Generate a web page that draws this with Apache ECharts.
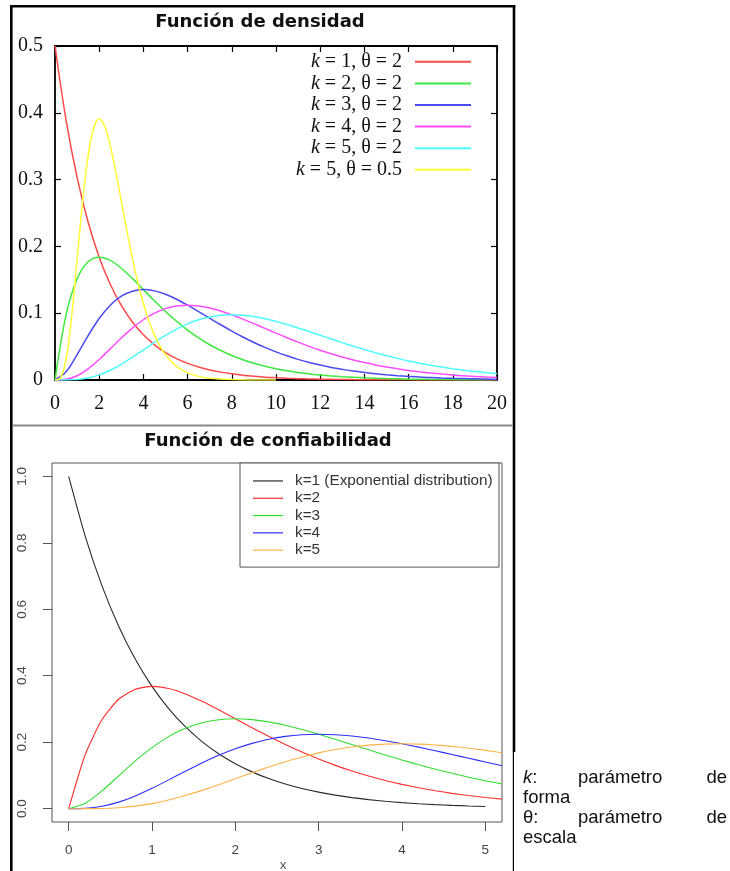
<!DOCTYPE html>
<html><head><meta charset="utf-8">
<script src="https://cdn.jsdelivr.net/npm/echarts@6/dist/echarts.min.js"></script>
<style>html,body{margin:0;padding:0;background:#fff}#c{width:730px;height:871px}</style>
</head><body><div id="c"></div>
<script>
// ---------- Top panel: Función de densidad ----------
const densX = [0,0.5,1,1.5,2,2.5,3,3.5,4,4.5,5,5.5,6,6.5,7,7.5,8,8.5,9,9.5,10,10.5,11,11.5,12,12.5,13,13.5,14,14.5,15,15.5,16,16.5,17,17.5,18,18.5,19,19.5,20];
const densK1 = [0.5,0.3894,0.3033,0.2362,0.1839,0.1433,0.1116,0.0869,0.0677,0.0527,0.0410,0.0320,0.0249,0.0194,0.0151,0.0118,0.0092,0.0071,0.0056,0.0043,0.0034,0.0026,0.0020,0.0016,0.0012,0.0010,0.0008,0.0006,0.0005,0.0004,0.0003,0.0002,0.0002,0.0001,0.0001,0.0001,0.0001,0,0,0,0];
const densK2 = [0,0.0974,0.1516,0.1771,0.1839,0.1791,0.1673,0.1521,0.1353,0.1186,0.1026,0.0879,0.0747,0.0630,0.0528,0.0441,0.0366,0.0303,0.0250,0.0205,0.0168,0.0138,0.0112,0.0092,0.0074,0.0060,0.0049,0.0040,0.0032,0.0026,0.0021,0.0017,0.0013,0.0011,0.0009,0.0007,0.0006,0.0004,0.0004,0.0003,0.0002];
const densK3 = [0,0.0122,0.0379,0.0664,0.0920,0.1119,0.1255,0.1330,0.1353,0.1334,0.1283,0.1209,0.1120,0.1024,0.0925,0.0827,0.0733,0.0644,0.0562,0.0488,0.0421,0.0362,0.0309,0.0263,0.0223,0.0188,0.0159,0.0133,0.0112,0.0093,0.0078,0.0065,0.0054,0.0044,0.0037,0.0030,0.0025,0.0021,0.0017,0.0014,0.0011];
const densK4 = [0,0.0010,0.0063,0.0166,0.0307,0.0466,0.0628,0.0776,0.0902,0.1000,0.1069,0.1108,0.1120,0.1109,0.1079,0.1034,0.0977,0.0912,0.0844,0.0773,0.0702,0.0633,0.0567,0.0504,0.0446,0.0393,0.0344,0.0300,0.0261,0.0226,0.0194,0.0167,0.0143,0.0122,0.0104,0.0088,0.0075,0.0063,0.0054,0.0045,0.0038];
const densK5 = [0,0.0001,0.0008,0.0031,0.0077,0.0146,0.0235,0.0340,0.0451,0.0563,0.0668,0.0762,0.0840,0.0901,0.0944,0.0969,0.0977,0.0970,0.0949,0.0918,0.0877,0.0831,0.0779,0.0725,0.0669,0.0614,0.0559,0.0506,0.0456,0.0409,0.0365,0.0324,0.0286,0.0252,0.0221,0.0193,0.0168,0.0146,0.0127,0.0110,0.0095];
const yelX = [0,0.25,0.5,0.75,1,1.25,1.5,1.75,2,2.25,2.5,2.75,3,3.25,3.5,3.75,4,4.25,4.5,4.75,5,5.5,6,6.5,7,8,9,10];
const densK5T05 = [0,0.0032,0.0307,0.0941,0.1804,0.2672,0.3361,0.3776,0.3907,0.3796,0.3509,0.3117,0.2677,0.2236,0.1825,0.1458,0.1145,0.0885,0.0675,0.0508,0.0378,0.0204,0.0106,0.0054,0.0027,0.0006,0.0001,0];
const topNames = ['k = 1, θ = 2','k = 2, θ = 2','k = 3, θ = 2','k = 4, θ = 2','k = 5, θ = 2','k = 5, θ = 0.5'];
const topColors = ['#ff4a4a','#3ee83e','#4a4af0','#ff4dff','#4dffff','#ffff33'];

// ---------- Bottom panel: Función de confiabilidad ----------
const relX = [0,0.2,0.4,0.6,0.8,1,1.2,1.4,1.6,1.8,2,2.2,2.4,2.6,2.8,3,3.2,3.4,3.6,3.8,4,4.2,4.4,4.6,4.8,5,5.2];
const relK1 = [1,0.8187,0.6703,0.5488,0.4493,0.3679,0.3012,0.2466,0.2019,0.1653,0.1353,0.1108,0.0907,0.0743,0.0608,0.0498,0.0408,0.0334,0.0273,0.0224,0.0183,0.0150,0.0123,0.0101,0.0082,0.0067];
const relK2 = [0,0.1637,0.2681,0.3293,0.3595,0.3679,0.3614,0.3452,0.3230,0.2975,0.2707,0.2438,0.2177,0.1931,0.1703,0.1494,0.1304,0.1135,0.0984,0.0850,0.0733,0.0630,0.0540,0.0462,0.0395,0.0337,0.0287];
const relK3 = [0,0.0164,0.0536,0.0988,0.1438,0.1839,0.2169,0.2417,0.2584,0.2678,0.2707,0.2681,0.2613,0.2510,0.2384,0.2240,0.2087,0.1929,0.1771,0.1615,0.1465,0.1323,0.1188,0.1064,0.0948,0.0842,0.0746];
const relK4 = [0,0.0011,0.0072,0.0198,0.0383,0.0613,0.0867,0.1128,0.1378,0.1607,0.1804,0.1966,0.2090,0.2176,0.2225,0.2240,0.2226,0.2186,0.2125,0.2046,0.1954,0.1852,0.1743,0.1631,0.1517,0.1404,0.1293];
const relK5 = [0,0.0001,0.0007,0.0030,0.0077,0.0153,0.0260,0.0395,0.0551,0.0723,0.0902,0.1082,0.1254,0.1414,0.1557,0.1680,0.1781,0.1858,0.1912,0.1944,0.1954,0.1944,0.1917,0.1875,0.1820,0.1755,0.1681];
const relXTicks = [0,1,2,3,4,5];
const relYTicks = [0,0.2,0.4,0.6,0.8,1.0];
const botNames = ['k=1 (Exponential distribution)','k=2','k=3','k=4','k=5'];
const botColors = ['#2a2a2a','#ff2e2e','#30dd30','#2e2eff','#ffb347'];

const pairs = (xs, ys) => ys.map((y, i) => [xs[i], y]);
const topData = [pairs(densX,densK1),pairs(densX,densK2),pairs(densX,densK3),pairs(densX,densK4),pairs(densX,densK5),pairs(yelX,densK5T05)];
const botData = [pairs(relX,relK1),pairs(relX,relK2),pairs(relX,relK3),pairs(relX,relK4),pairs(relX,relK5)];

const serif = 'Liberation Serif';
const sans = 'Liberation Sans';

const series = [];
topNames.forEach((n, i) => series.push({
  name: n, type: 'line', xAxisIndex: 0, yAxisIndex: 0, data: topData[i],
  showSymbol: false, symbol: 'none', smooth: 0.35, color: topColors[i],
  lineStyle: {width: 1.5, color: topColors[i]}, z: 3
}));
botNames.forEach((n, i) => series.push({
  name: n, type: 'line', xAxisIndex: 2, yAxisIndex: 2, data: botData[i],
  showSymbol: false, symbol: 'none', smooth: 0.2, color: botColors[i],
  lineStyle: {width: 1.1, color: botColors[i]}, z: 3
}));

const topTick = {inside: true, length: 6, lineStyle: {color: '#000', width: 1.2}};
const noLine = {show: false, onZero: false};
const chart = echarts.init(document.getElementById('c'), null, {renderer: 'canvas'});
chart.setOption({
  animation: false,
  backgroundColor: '#fff',
  grid: [
    {left: 55, top: 46, width: 442, height: 334, outerBoundsMode: 'none', containLabel: false, show: true, borderColor: '#000', borderWidth: 1.8, backgroundColor: 'transparent'},
    {left: 52, top: 463, width: 450, height: 359, outerBoundsMode: 'none', containLabel: false, show: true, borderColor: '#555', borderWidth: 1, backgroundColor: 'transparent'}
  ],
  xAxis: [
    {gridIndex: 0, type: 'value', min: 0, max: 20, interval: 2, position: 'bottom',
     axisLine: noLine, axisTick: topTick, splitLine: {show: false},
     axisLabel: {margin: 14, color: '#111', fontFamily: serif, fontSize: 20}},
    {gridIndex: 0, type: 'value', min: 0, max: 20, interval: 2, position: 'top',
     axisLine: noLine, axisTick: topTick, splitLine: {show: false}, axisLabel: {show: false}},
    {gridIndex: 1, type: 'value', min: -0.2, max: 5.2, position: 'bottom',
     axisLine: noLine, splitLine: {show: false},
     axisTick: {customValues: relXTicks, length: 9, lineStyle: {color: '#555', width: 1}},
     axisLabel: {customValues: relXTicks, margin: 21, color: '#444', fontFamily: sans, fontSize: 13.5},
     name: 'x', nameLocation: 'middle', nameGap: 36,
     nameTextStyle: {color: '#555', fontFamily: sans, fontSize: 13.5, padding: [0, 0, 0, 12]}}
  ],
  yAxis: [
    {gridIndex: 0, type: 'value', min: 0, max: 0.5, interval: 0.1, position: 'left',
     axisLine: noLine, axisTick: topTick, splitLine: {show: false},
     axisLabel: {margin: 12, color: '#111', fontFamily: serif, fontSize: 20}},
    {gridIndex: 0, type: 'value', min: 0, max: 0.5, interval: 0.1, position: 'right',
     axisLine: noLine, axisTick: topTick, splitLine: {show: false}, axisLabel: {show: false}},
    {gridIndex: 1, type: 'value', min: -0.04, max: 1.04, position: 'left',
     axisLine: noLine, splitLine: {show: false},
     axisTick: {customValues: relYTicks, length: 9, lineStyle: {color: '#555', width: 1}},
     axisLabel: {customValues: relYTicks, rotate: 90, margin: 23, color: '#444', fontFamily: sans, fontSize: 13.5,
                 formatter: v => Number(v).toFixed(1)}}
  ],
  legend: [
    {data: topNames, orient: 'vertical', right: 259, top: 51, padding: 0, itemGap: 0,
     itemWidth: 56, itemHeight: 2, icon: 'rect', align: 'right', selectedMode: false,
     formatter: n => '{i|k}{n|' + n.slice(1) + '}',
     textStyle: {width: 118, align: 'right', padding: [0, 8, 0, 0], lineHeight: 21.6,
       fontFamily: serif, fontSize: 20, color: '#111',
       rich: {i: {fontStyle: 'italic', fontFamily: serif, fontSize: 20, color: '#111', lineHeight: 21.6},
              n: {fontFamily: serif, fontSize: 20, color: '#111', lineHeight: 21.6}}}},
    {data: botNames, orient: 'vertical', left: 240, top: 463, padding: [9.3, 6, 8.3, 13], itemGap: 0,
     itemWidth: 30, itemHeight: 1.2, icon: 'rect', align: 'left', selectedMode: false,
     borderColor: '#555', borderWidth: 1, backgroundColor: '#fff',
     textStyle: {width: 198, overflow: 'none', padding: [0, 0, 0, 7], lineHeight: 17.3, fontFamily: sans, fontSize: 15.3, color: '#333'}}
  ],
  graphic: [
    {type: 'line', silent: true, shape: {x1: 11.3, y1: 5, x2: 11.3, y2: 871}, style: {stroke: '#000', lineWidth: 2.6}},
    {type: 'line', silent: true, shape: {x1: 10, y1: 6.2, x2: 515.3, y2: 6.2}, style: {stroke: '#000', lineWidth: 2.5}},
    {type: 'line', silent: true, shape: {x1: 514, y1: 5, x2: 514, y2: 752}, style: {stroke: '#000', lineWidth: 2.6}},
    {type: 'line', silent: true, shape: {x1: 513.4, y1: 752, x2: 513.4, y2: 871}, style: {stroke: '#000', lineWidth: 1.2}},
    {type: 'line', silent: true, shape: {x1: 12.5, y1: 425.5, x2: 512.7, y2: 425.5}, style: {stroke: '#888', lineWidth: 2}},
    {type: 'text', silent: true, x: 260, y: 22, style: {text: 'Función de densidad', fontFamily: 'DejaVu Sans', fontWeight: 'bold', fontSize: 18, fill: '#111', align: 'center', verticalAlign: 'middle'}},
    {type: 'text', silent: true, x: 268, y: 441, style: {text: 'Función de confiabilidad', fontFamily: 'DejaVu Sans', fontWeight: 'bold', fontSize: 18, fill: '#111', align: 'center', verticalAlign: 'middle'}},
    {type: 'text', silent: true, x: 523, y: 778, style: {text: '{i|k}{n|:}', verticalAlign: 'middle', rich: {i: {fontStyle: 'italic', fontFamily: sans, fontSize: 18.5, fill: '#111'}, n: {fontFamily: sans, fontSize: 18.5, fill: '#111'}}}},
    {type: 'text', silent: true, x: 578, y: 778, style: {text: 'parámetro', fontFamily: sans, fontSize: 18.5, fill: '#111', verticalAlign: 'middle'}},
    {type: 'text', silent: true, x: 727, y: 778, style: {text: 'de', fontFamily: sans, fontSize: 18.5, fill: '#111', align: 'right', verticalAlign: 'middle'}},
    {type: 'text', silent: true, x: 523, y: 798, style: {text: 'forma', fontFamily: sans, fontSize: 18.5, fill: '#111', verticalAlign: 'middle'}},
    {type: 'text', silent: true, x: 523, y: 818, style: {text: 'θ:', fontFamily: sans, fontSize: 18.5, fill: '#111', verticalAlign: 'middle'}},
    {type: 'text', silent: true, x: 578, y: 818, style: {text: 'parámetro', fontFamily: sans, fontSize: 18.5, fill: '#111', verticalAlign: 'middle'}},
    {type: 'text', silent: true, x: 727, y: 818, style: {text: 'de', fontFamily: sans, fontSize: 18.5, fill: '#111', align: 'right', verticalAlign: 'middle'}},
    {type: 'text', silent: true, x: 523, y: 838, style: {text: 'escala', fontFamily: sans, fontSize: 18.5, fill: '#111', verticalAlign: 'middle'}}
  ],
  series: series
});
</script></body></html>
